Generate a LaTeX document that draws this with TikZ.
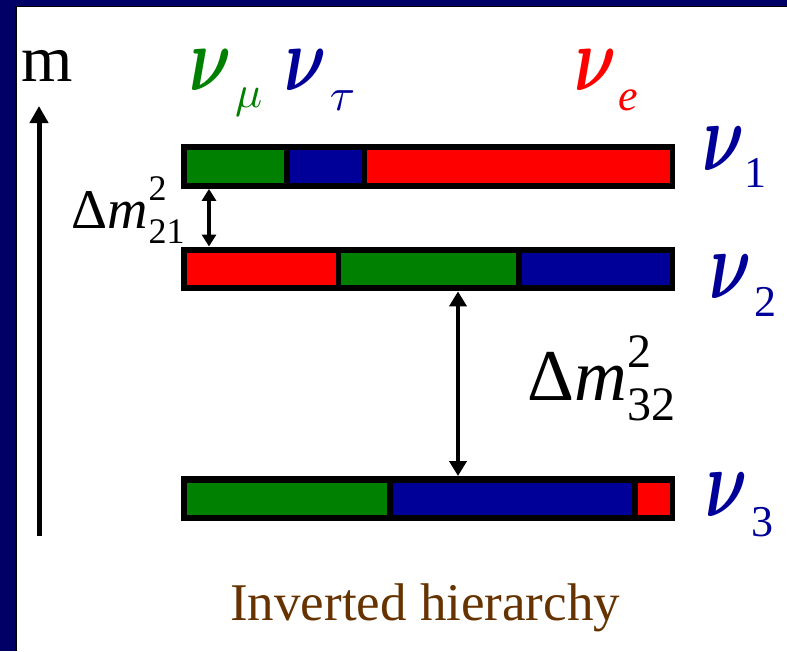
\documentclass[tikz,border=0pt]{standalone}
\usepackage{fontspec}
\setmainfont{Liberation Serif}
\usetikzlibrary{arrows.meta}
\definecolor{navyband}{RGB}{0,0,102}
\definecolor{nugreen}{RGB}{0,128,0}
\definecolor{nublue}{RGB}{0,0,153}
\definecolor{nured}{RGB}{255,0,0}
\definecolor{hbrown}{RGB}{102,51,0}
\newcommand{\fs}[1]{\fontsize{#1}{#1}\selectfont}
\newcommand{\bignuA}{\scalebox{6.5}[9.2]{\boldmath$\nu$}}
\newcommand{\bignuB}{\scalebox{6.5}[9.8]{\boldmath$\nu$}}
\tikzset{
  barframe/.style={fill=black, draw=none, inner sep=0pt, anchor=north west, minimum width=494pt, minimum height=44.5pt},
  lbl/.style={inner sep=0pt, anchor=base west},
  axisarrow/.style={line width=5pt, -{Triangle[width=18pt,length=17pt]}},
  gaparrowA/.style={line width=3.5pt, {Triangle[width=14pt,length=12pt]}-{Triangle[width=14pt,length=12pt]}},
  gaparrowB/.style={line width=4.5pt, {Triangle[width=17pt,length=15pt]}-{Triangle[width=17pt,length=15pt]}},
}
\begin{document}
\begin{tikzpicture}[x=1pt,y=-1pt]
\useasboundingbox (0,0) rectangle (787,651);
\fill[white] (0,0) rectangle (787,651);
% frame
\fill[navyband] (0,0) rectangle (787,6);
\fill[navyband] (0,0) rectangle (15.5,651);
\draw[black, line width=1.5pt] (16.2,651) -- (16.2,6.7) -- (787,6.7);

% axis
\coordinate (axbot) at (39,536);
\coordinate (axtop) at (39,106);
\draw[axisarrow] (axbot) -- (axtop);
\node[lbl] (mlab) at (21,81) {\fs{66}m};

% flavour labels
\node[lbl, text=nugreen] (numu) at (189,90.7) {\bignuA\kern4pt\raisebox{-17pt}{\scalebox{4.5}{$\mu$}}};
\node[lbl, text=nublue] (nutau) at (284,90.7) {\bignuA\kern3.6pt\raisebox{-19.3pt}{\scalebox{4.6}{$\tau$}}};
\node[lbl, text=nured] (nue) at (574,90.7) {\bignuA\kern2pt\raisebox{-19.3pt}{\fs{44}\itshape e}};

% bars
\node[barframe] (b1) at (181,144) {};
\fill[nugreen] (187,150) rectangle (284,182.5);
\fill[nublue] (289.5,150) rectangle (361.5,182.5);
\fill[nured] (367,150) rectangle (670,182.5);

\node[barframe] (b2) at (181,246.5) {};
\fill[nured] (187,252.5) rectangle (335.5,285);
\fill[nugreen] (341,252.5) rectangle (516,285);
\fill[nublue] (521.5,252.5) rectangle (670,285);

\node[barframe] (b3) at (181,476) {};
\fill[nugreen] (187,482.5) rectangle (387,515);
\fill[nublue] (392.5,482.5) rectangle (631.5,515);
\fill[nured] (638,482.5) rectangle (670,515);

% mass labels
\node[lbl, text=nublue] (nu1) at (702,170) {\bignuB\kern0.5pt\raisebox{-17pt}{\fs{44}1}};
\node[lbl, text=nublue] (nu2) at (709,298) {\bignuB\kern3.7pt\raisebox{-18pt}{\fs{44}2}};
\node[lbl, text=nublue] (nu3) at (705,516.7) {\bignuB\kern4.4pt\raisebox{-19.5pt}{\fs{44}3}};

% splittings
\coordinate (a21) at (209,0);
\draw[gaparrowA] (b1.south -| a21) -- (b2.north -| a21);
\coordinate (a32) at (458,0);
\draw[gaparrowB] (b2.south -| a32) -- (b3.north -| a32);

\node[lbl] (dm21) at (71,228) {\fs{56}Δ\textit{m}\kern1pt\rlap{\raisebox{28pt}{\fs{36}2}}\raisebox{-15pt}{\fs{36}21}};
\node[lbl] (dm32) at (527,400) {\fs{73}Δ\textit{m}\kern1pt\rlap{\raisebox{33pt}{\fs{48}2}}\raisebox{-20pt}{\fs{48}32}};

\node[lbl, text=hbrown] (title) at (230,620) {\fs{53}Inverted hierarchy};
\end{tikzpicture}
\end{document}
